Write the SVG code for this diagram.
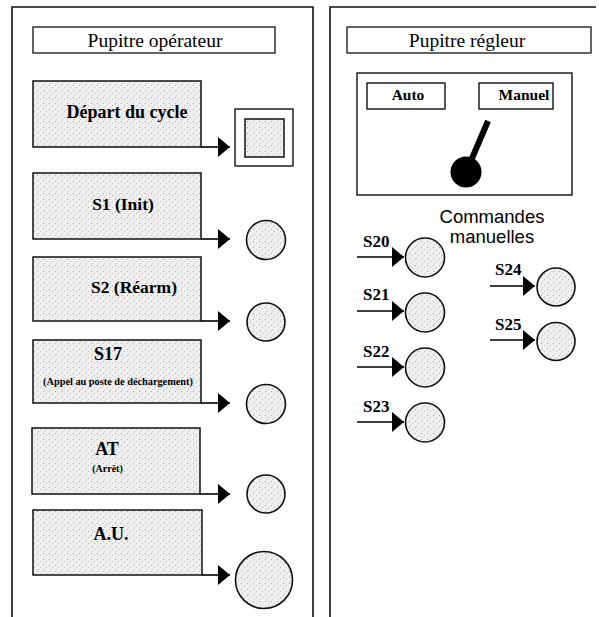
<svg xmlns="http://www.w3.org/2000/svg" width="599" height="617" viewBox="0 0 599 617">
  <defs>
    <!-- light stippled grey used for button faces and lamps -->
    <pattern id="stipple" width="6" height="6" patternUnits="userSpaceOnUse">
      <rect width="6" height="6" fill="#efefef"/>
      <rect x="1" y="1" width="1" height="1" fill="#a8a8a8"/>
      <rect x="4" y="3" width="1" height="1" fill="#b8b8b8"/>
      <rect x="2" y="5" width="1" height="1" fill="#c4c4c4"/>
    </pattern>
    <marker id="head" viewBox="0 0 12 20" refX="12" refY="10" markerWidth="12" markerHeight="20" markerUnits="userSpaceOnUse" orient="auto">
      <path d="M0,0 L12,10 L0,20 Z" fill="#000"/>
    </marker>
    <style>
      .frame { fill: none; stroke: #111; stroke-width: 1.6; }
      .title { fill: #fff; stroke: #111; stroke-width: 1.3; }
      .btn { fill: url(#stipple); stroke: #111; stroke-width: 1.5; }
      .lamp { fill: url(#stipple); stroke: #111; stroke-width: 1.6; }
      .plain { fill: #fff; stroke: #111; stroke-width: 1.4; }
      .wire { stroke: #000; stroke-width: 1.6; fill: none; marker-end: url(#head); }
      .serif { font-family: "Liberation Serif", "Times New Roman", serif; fill: #000; }
      .sans { font-family: "Liberation Sans", Arial, sans-serif; fill: #000; }
      .b { font-weight: bold; }
    </style>
  </defs>

  <rect width="599" height="617" fill="#fff"/>

  <!-- panel frames -->
  <g id="panel-operateur-frame">
    <path class="frame" d="M12,617 V7 H313 V617"/>
  </g>
  <g id="panel-regleur-frame">
    <path class="frame" d="M330,617 V7 H596"/>
  </g>

  <!-- operator desk -->
  <g id="title-operateur">
    <rect class="title" x="33" y="27" width="242" height="26"/>
    <text class="serif" x="155" y="47" font-size="19.5" text-anchor="middle">Pupitre opérateur</text>
  </g>

  <g id="btn-depart">
    <rect class="btn" x="33" y="81" width="168" height="66"/>
    <text class="serif b" x="127" y="118" font-size="18" text-anchor="middle">Départ du cycle</text>
  </g>
  <g id="lamp-depart">
    <rect class="plain" x="235" y="109" width="58" height="57"/>
    <rect class="btn" x="245" y="119" width="39" height="38"/>
  </g>

  <g id="btn-s1">
    <rect class="btn" x="33" y="173" width="168" height="66"/>
    <text class="serif b" x="123" y="210" font-size="17.5" text-anchor="middle">S1 (Init)</text>
  </g>
  <g id="lamp-s1"><circle class="lamp" cx="266" cy="240" r="19.5"/></g>

  <g id="btn-s2">
    <rect class="btn" x="33" y="257" width="168" height="64"/>
    <text class="serif b" x="134" y="293" font-size="17.5" text-anchor="middle">S2 (Réarm)</text>
  </g>
  <g id="lamp-s2"><circle class="lamp" cx="266" cy="322" r="19"/></g>

  <g id="btn-s17">
    <rect class="btn" x="33" y="340" width="168" height="63"/>
    <text class="serif b" x="108" y="360" font-size="18" text-anchor="middle">S17</text>
    <text class="serif b" x="118" y="385" font-size="10.3" text-anchor="middle">(Appel au poste de déchargement)</text>
  </g>
  <g id="lamp-s17"><circle class="lamp" cx="266" cy="404" r="19.5"/></g>

  <g id="btn-at">
    <rect class="btn" x="32" y="428" width="168" height="66"/>
    <text class="serif b" x="107" y="455" font-size="18" text-anchor="middle">AT</text>
    <text class="serif b" x="107.5" y="472" font-size="10" text-anchor="middle">(Arrêt)</text>
  </g>
  <g id="lamp-at"><circle class="lamp" cx="266" cy="494" r="19"/></g>

  <g id="btn-au">
    <rect class="btn" x="33" y="510" width="169" height="65"/>
    <text class="serif b" x="111" y="540" font-size="18" text-anchor="middle">A.U.</text>
  </g>
  <g id="lamp-au"><circle class="lamp" cx="264" cy="580" r="28.5"/></g>

  <!-- setter desk -->
  <g id="title-regleur">
    <rect class="title" x="347" y="27" width="244" height="26"/>
    <text class="serif" x="467" y="47" font-size="19.5" text-anchor="middle">Pupitre régleur</text>
  </g>

  <g id="selector">
    <rect class="plain" x="357" y="73" width="215" height="122"/>
    <rect class="plain" x="367" y="83" width="78" height="26"/>
    <text class="serif b" x="408" y="100" font-size="15.5" text-anchor="middle">Auto</text>
    <rect class="plain" x="479" y="83" width="74" height="26"/>
    <text class="serif b" x="524" y="100" font-size="15.5" text-anchor="middle">Manuel</text>
    <line x1="488" y1="121" x2="467" y2="170" stroke="#000" stroke-width="6" stroke-linecap="butt"/>
    <circle cx="466" cy="172" r="15.5" fill="#000"/>
  </g>

  <g id="label-commandes">
    <text class="sans" x="492" y="223" font-size="18.5" text-anchor="middle">Commandes</text>
    <text class="sans" x="492" y="243" font-size="18.5" text-anchor="middle">manuelles</text>
  </g>

  <g id="btn-s20">
    <text class="serif b" x="363" y="247" font-size="17">S20</text>
    <circle class="lamp" cx="425" cy="257.5" r="19.5"/>
  </g>
  <g id="btn-s21">
    <text class="serif b" x="363" y="300" font-size="17">S21</text>
    <circle class="lamp" cx="425" cy="312.5" r="19.5"/>
  </g>
  <g id="btn-s22">
    <text class="serif b" x="363" y="357" font-size="17">S22</text>
    <circle class="lamp" cx="425" cy="367.5" r="19.5"/>
  </g>
  <g id="btn-s23">
    <text class="serif b" x="363" y="412" font-size="17">S23</text>
    <circle class="lamp" cx="425" cy="422.5" r="19.5"/>
  </g>
  <g id="btn-s24">
    <text class="serif b" x="495" y="275" font-size="17">S24</text>
    <circle class="lamp" cx="556" cy="287" r="19"/>
  </g>
  <g id="btn-s25">
    <text class="serif b" x="495" y="330" font-size="17">S25</text>
    <circle class="lamp" cx="556" cy="341.5" r="19"/>
  </g>

  <!-- connectors -->
  <g id="connectors">
    <line class="wire" x1="201" y1="147" x2="230" y2="147"/>
    <line class="wire" x1="201" y1="239" x2="230" y2="239"/>
    <line class="wire" x1="201" y1="321" x2="230" y2="321"/>
    <line class="wire" x1="201" y1="403" x2="230" y2="403"/>
    <line class="wire" x1="200" y1="494" x2="230" y2="494"/>
    <line class="wire" x1="202" y1="575" x2="230" y2="575"/>

    <line class="wire" x1="357" y1="257" x2="404" y2="257"/>
    <line class="wire" x1="357" y1="311" x2="404" y2="311"/>
    <line class="wire" x1="357" y1="367" x2="404" y2="367"/>
    <line class="wire" x1="357" y1="422" x2="404" y2="422"/>
    <line class="wire" x1="490" y1="286" x2="535" y2="286"/>
    <line class="wire" x1="490" y1="340" x2="535" y2="340"/>
  </g>
</svg>
